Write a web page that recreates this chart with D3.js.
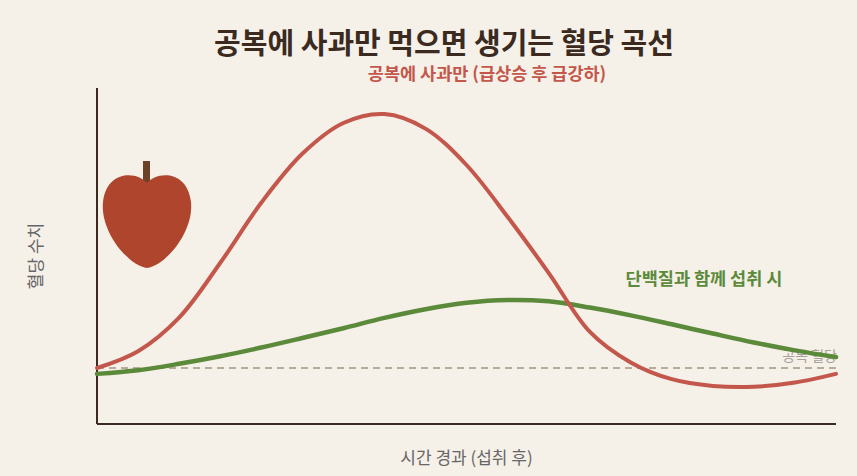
<!DOCTYPE html>
<html><head><meta charset="utf-8">
<script src="https://cdn.jsdelivr.net/npm/d3@7"></script>
<style>
html,body{margin:0;padding:0;background:#f5f0e8;}
svg{display:block;font-family:"Noto Sans CJK KR","Noto Sans",sans-serif;}
</style></head>
<body>
<svg id="chart" width="857" height="476"></svg>
<script>
// time (minutes after eating)
const times = [0,10,20,30,40,50,60,70,80,90,100,110,120,130,140,150,160,170,180];
// blood glucose (mg/dL) - apple only on empty stomach
const appleOnly = [90,96,108,127.5,149,166.5,177.5,180.7,175.5,162.5,144,124,103,92,86,83.6,83.3,84.8,87.9];
// blood glucose with protein
const withProtein = [87.9,89.2,91.5,94.2,97.3,100.7,104.2,107.9,111,113.3,114.3,113.8,111.6,108.8,105.6,102.3,99.1,96.3,93.9];
const fastingLevel = 90;
const labels = {
  title: "공복에 사과만 먹으면 생기는 혈당 곡선",
  appleSeries: "공복에 사과만 (급상승 후 급강하)",
  proteinSeries: "단백질과 함께 섭취 시",
  fasting: "공복 혈당",
  xAxis: "시간 경과 (섭취 후)",
  yAxis: "혈당 수치"
};

const svg = d3.select("#chart");
const W = 857, H = 476;
const m = {left:97, right:21, top:88, bottom:52};
svg.append("rect").attr("width",W).attr("height",H).attr("fill","#f5f0e8");

const x = d3.scaleLinear().domain([0,180]).range([m.left, W-m.right]);
const y = d3.scaleLinear().domain([70,190]).range([H-m.bottom, m.top]);

// title
svg.append("text").attr("x",444).attr("y",54).attr("text-anchor","middle")
  .attr("font-size",29).attr("font-weight",700).attr("fill","#3a2a20").text(labels.title);
svg.append("text").attr("x",487).attr("y",80).attr("text-anchor","middle")
  .attr("font-size",17.5).attr("font-weight",700).attr("fill","#c4574b").text(labels.appleSeries);

// fasting baseline
svg.append("line").attr("x1",x(0)).attr("x2",x(180)).attr("y1",y(fastingLevel)).attr("y2",y(fastingLevel))
  .attr("stroke","#b8ad9c").attr("stroke-width",2).attr("stroke-dasharray","7,5");
svg.append("text").attr("x",x(180)+1).attr("y",y(fastingLevel)-7).attr("text-anchor","end")
  .attr("font-size",14).attr("fill","#a8a29a").text(labels.fasting);

// axes lines
svg.append("line").attr("x1",m.left).attr("x2",m.left).attr("y1",m.top).attr("y2",H-m.bottom)
  .attr("stroke","#3a2a20").attr("stroke-width",2);
svg.append("line").attr("x1",m.left).attr("x2",W-m.right).attr("y1",H-m.bottom).attr("y2",H-m.bottom)
  .attr("stroke","#3a2a20").attr("stroke-width",2);

const line = d3.line().x((d,i)=>x(times[i])).y(d=>y(d)).curve(d3.curveCatmullRom.alpha(0.5));

svg.append("path").attr("d",line(withProtein)).attr("fill","none")
  .attr("stroke","#5a8a3a").attr("stroke-width",4.5).attr("stroke-linecap","round");
svg.append("path").attr("d",line(appleOnly)).attr("fill","none")
  .attr("stroke","#c4574b").attr("stroke-width",4).attr("stroke-linecap","round");

svg.append("text").attr("x",704).attr("y",285).attr("text-anchor","middle")
  .attr("font-size",17.5).attr("font-weight",700).attr("fill","#5a8a3a").text(labels.proteinSeries);

// axis labels
svg.append("text").attr("x",(m.left+W-m.right)/2).attr("y",464).attr("text-anchor","middle")
  .attr("font-size",17).attr("fill","#666").text(labels.xAxis);
svg.append("text").attr("transform","translate(42,256) rotate(-90)").attr("text-anchor","middle")
  .attr("font-size",17).attr("fill","#666").text(labels.yAxis);

// apple icon
const ax = 147;
const apple = svg.append("g");
apple.append("rect").attr("x",ax-4).attr("y",161).attr("width",7).attr("height",22).attr("fill","#6b4226");
apple.append("path").attr("fill","#b0452e").attr("d",
  `M${ax},183 C${ax-8},172 ${ax-40},168 ${ax-44},202 C${ax-47},232 ${ax-18},266 ${ax},268 C${ax+18},266 ${ax+47},232 ${ax+44},202 C${ax+40},168 ${ax+8},172 ${ax},183 Z`);
</script>
</body></html>
